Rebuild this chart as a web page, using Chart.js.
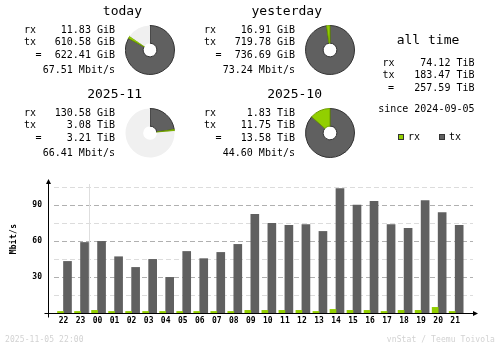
<!DOCTYPE html>
<html lang="en">
<head>
<meta charset="UTF-8" />
<title>vnStat summary</title>
<style>
  html, body { margin: 0; padding: 0; background: #fff; }
  body {
    width: 500px; height: 348px; position: relative; overflow: hidden;
    font-family: "DejaVu Sans Mono", monospace; color: #000;
  }
  .t { position: absolute; white-space: pre; font-size: 10px; line-height: 12px; }
  .h { position: absolute; white-space: pre; font-size: 13px; line-height: 14px; }
  .foot { position: absolute; white-space: pre; font-size: 8px; line-height: 10px; letter-spacing: 0.1px; color: #d2d2d2; }
  .ytitle {
    position: absolute; font-size: 8px; font-weight: bold; letter-spacing: 0.3px;
    line-height: 10px; transform: rotate(-90deg); transform-origin: center; white-space: pre;
  }
  .key { position: absolute; width: 4px; height: 4px; border: 1px solid #333; }
  canvas { position: absolute; }
</style>
</head>
<body>
<canvas id="hourly" width="500" height="348" style="left:0;top:0"></canvas>
<script src="https://cdn.jsdelivr.net/npm/chart.js@4.4.2/dist/chart.umd.min.js"></script>
<script>
  // summary blocks: today, yesterday, this month, last month
  const periods = ["today", "yesterday", "2025-11", "2025-10"];
  const rxValues = [11.83, 16.91, 130.58, 1.83];
  const rxUnits = ["GiB", "GiB", "GiB", "TiB"];
  const txValues = [610.58, 719.78, 3.08, 11.75];
  const txUnits = ["GiB", "GiB", "TiB", "TiB"];
  const totalValues = [622.41, 736.69, 3.21, 13.58];
  const totalUnits = ["GiB", "GiB", "TiB", "TiB"];
  const rates = [67.51, 73.24, 66.41, 44.60];

  const allTimeRx = 74.12;
  const allTimeTx = 183.47;
  const allTimeTotal = 257.59;
  const since = "2024-09-05";

  // hourly traffic, Mbit/s
  const hours = ["22", "23", "00", "01", "02", "03", "04", "05", "06", "07", "08", "09",
                 "10", "11", "12", "13", "14", "15", "16", "17", "18", "19", "20", "21"];
  const rxRate = [1.3, 1.3, 2.2, 1.3, 1.3, 1.3, 1.3, 1.3, 1.3, 1.3, 1.3, 2.2,
                  2.2, 2.2, 2.2, 1.3, 3.0, 2.2, 2.2, 1.3, 2.2, 2.2, 4.7, 1.3];
  const txRate = [43.0, 58.8, 59.7, 46.9, 38.0, 44.7, 29.7, 51.3, 45.3, 50.5, 57.2, 82.2,
                  74.7, 73.0, 73.8, 68.0, 103.8, 90.0, 93.0, 73.8, 70.5, 93.8, 83.8, 73.0];
  const stamp = "2025-11-05 22:00";

  const RX = "#92cf00", RX_EDGE = "#6e9c00";
  const TX = "#606060", TX_EDGE = "#333333";
  const EMPTY = "#f0f0f0";
  const GIB = { GiB: 1, TiB: 1024 };

  Chart.defaults.font.family = "'DejaVu Sans Mono', monospace";
  Chart.defaults.animation = false;

  function put(str, x, cy, align, cls) {
    const el = document.createElement("div");
    el.className = cls || "t";
    el.textContent = str;
    el.style.top = (cy - (cls === "h" ? 7 : 6)) + "px";
    if (align === "right") el.style.right = (500 - x) + "px";
    else if (align === "center") { el.style.left = (x - 100) + "px"; el.style.width = "200px"; el.style.textAlign = "center"; }
    else el.style.left = x + "px";
    document.body.appendChild(el);
    return el;
  }

  const fmt = (v, u) => v.toFixed(2) + " " + u;

  // ---- the four period blocks with their pies ----
  const blockX = [0, 180, 0, 180];
  const blockY = [0, 0, 83, 83];

  periods.forEach((name, i) => {
    const ox = blockX[i], oy = blockY[i];
    put(name, ox + 142, oy + 11, "right", "h");
    put("rx", ox + 24, oy + 29.5);
    put(fmt(rxValues[i], rxUnits[i]), ox + 115, oy + 29.5, "right");
    put("tx", ox + 24, oy + 41.7);
    put(fmt(txValues[i], txUnits[i]), ox + 115, oy + 41.7, "right");
    put("=", ox + 35.5, oy + 55);
    put(fmt(totalValues[i], totalUnits[i]), ox + 115, oy + 55, "right");
    put(rates[i].toFixed(2) + " Mbit/s", ox + 115, oy + 69.5, "right");

    // pie circle is the larger total of the pair (today/yesterday, month/previous month)
    const pair = i < 2 ? [0, 1] : [2, 3];
    const full = Math.max(...pair.map(k => totalValues[k] * GIB[totalUnits[k]]));
    const rx = rxValues[i] * GIB[rxUnits[i]];
    const tx = txValues[i] * GIB[txUnits[i]];
    const rest = Math.max(full - totalValues[i] * GIB[totalUnits[i]], 0);

    const cv = document.createElement("canvas");
    cv.width = 50; cv.height = 50;
    cv.style.left = (ox + 150 - 25) + "px";
    cv.style.top = (oy + 50 - 25) + "px";
    document.body.appendChild(cv);
    new Chart(cv, {
      type: "doughnut",
      data: {
        labels: ["tx", "rx", ""],
        datasets: [{
          data: [tx, rx, rest],
          backgroundColor: [TX, RX, EMPTY],
          borderColor: [TX_EDGE, RX_EDGE, EMPTY],
          borderWidth: [1, 1, 0],
        }],
      },
      options: {
        responsive: false,
        devicePixelRatio: 1,
        cutout: "28%",
        events: [],
        plugins: { legend: { display: false }, tooltip: { enabled: false } },
      },
    });
  });

  // ---- all time column ----
  put("all time", 428, 39.5, "center", "h");
  put("rx", 382.5, 62.5);
  put(fmt(allTimeRx, "TiB"), 474.5, 62.5, "right");
  put("tx", 382.5, 74.5);
  put(fmt(allTimeTx, "TiB"), 474.5, 74.5, "right");
  put("=", 388, 88);
  put(fmt(allTimeTotal, "TiB"), 474.5, 88, "right");
  put("since " + since, 474.5, 108.5, "right");

  function key(color, x, cy) {
    const k = document.createElement("div");
    k.className = "key";
    k.style.background = color;
    k.style.left = x + "px";
    k.style.top = (cy - 3) + "px";
    document.body.appendChild(k);
  }
  key(RX, 398, 136.5);
  put("rx", 408, 136.5);
  key(TX, 439, 136.5);
  put("tx", 449, 136.5);

  // ---- hourly bars ----
  const yTitle = document.createElement("div");
  yTitle.className = "ytitle";
  yTitle.textContent = "Mbit/s";
  yTitle.style.left = "-6px";
  yTitle.style.top = "234px";
  yTitle.style.width = "40px";
  yTitle.style.textAlign = "center";
  document.body.appendChild(yTitle);

  const foot1 = document.createElement("div");
  foot1.className = "foot";
  foot1.textContent = stamp;
  foot1.style.left = "5px";
  foot1.style.top = "335px";
  document.body.appendChild(foot1);
  const foot2 = document.createElement("div");
  foot2.className = "foot";
  foot2.textContent = "vnStat / Teemu Toivola";
  foot2.style.right = "5px";
  foot2.style.top = "335px";
  document.body.appendChild(foot2);

  // dashed guide lines, the midnight marker and the arrowed axes
  const hourlyFrame = {
    id: "hourlyFrame",
    beforeDatasetsDraw(chart) {
      const { ctx, chartArea: a, scales } = chart;
      ctx.save();
      ctx.lineWidth = 1;
      ctx.setLineDash([5, 3]);
      for (let v = 15; v < scales.y.max; v += 15) {
        const y = Math.round(scales.y.getPixelForValue(v)) + 0.5;
        ctx.strokeStyle = v % 30 === 0 ? "#b0b0b0" : "#dcdcdc";
        ctx.beginPath();
        ctx.moveTo(a.left + 6, y);
        ctx.lineTo(a.right - 5, y);
        ctx.stroke();
      }
      ctx.setLineDash([]);
      const midnight = hours.indexOf("00");
      if (midnight > 0) {
        const x = Math.round(scales.x.getPixelForValue(midnight - 0.5)) + 0.5;
        ctx.strokeStyle = "#dedede";
        ctx.beginPath();
        ctx.moveTo(x, a.top + 5);
        ctx.lineTo(x, a.bottom);
        ctx.stroke();
      }
      ctx.restore();
    },
    afterDatasetsDraw(chart) {
      const { ctx, chartArea: a } = chart;
      const x0 = Math.round(a.left) + 0.5;
      const y0 = Math.round(a.bottom) + 0.5;
      ctx.save();
      ctx.strokeStyle = "#000";
      ctx.fillStyle = "#000";
      ctx.lineWidth = 1;
      ctx.beginPath();
      ctx.moveTo(x0, a.top + 2);
      ctx.lineTo(x0, y0 + 4);
      ctx.moveTo(x0 - 4, y0);
      ctx.lineTo(a.right - 2, y0);
      ctx.stroke();
      ctx.beginPath();
      ctx.moveTo(x0, a.top);
      ctx.lineTo(x0 - 2.5, a.top + 5);
      ctx.lineTo(x0 + 2.5, a.top + 5);
      ctx.closePath();
      ctx.fill();
      ctx.beginPath();
      ctx.moveTo(a.right, y0);
      ctx.lineTo(a.right - 5, y0 - 2.5);
      ctx.lineTo(a.right - 5, y0 + 2.5);
      ctx.closePath();
      ctx.fill();
      ctx.restore();
    },
  };

  new Chart(document.getElementById("hourly"), {
    type: "bar",
    data: {
      datasets: [
        {
          label: "rx",
          data: rxRate.map((v, i) => ({ x: i, y: v })),
          backgroundColor: RX,
          barThickness: 6,
        },
        {
          label: "tx",
          data: txRate.map((v, i) => ({ x: i, y: v })),
          backgroundColor: TX,
          barThickness: 8,
        },
      ],
    },
    options: {
      responsive: false,
      devicePixelRatio: 1,
      events: [],
      layout: { padding: { left: 0, right: 22, top: 179, bottom: 0 } },
      plugins: { legend: { display: false }, tooltip: { enabled: false } },
      scales: {
        x: {
          type: "linear",
          bounds: "data",
          offset: false,
          min: -0.91,
          max: 24.34,
          grid: { display: false, drawTicks: false },
          border: { display: false },
          afterFit(scale) { scale.height = 35; },
          // one tick per hour slot
          afterBuildTicks(scale) { scale.ticks = hours.map((_, i) => ({ value: i })); },
          ticks: {
            autoSkip: false,
            maxRotation: 0,
            padding: 3,
            color: "#000",
            font: { size: 8, weight: "bold" },
            callback: (v) => hours[v] ?? "",
          },
        },
        y: {
          bounds: "data",
          min: 0,
          max: 111.7,
          grid: { display: false, drawTicks: false },
          border: { display: false },
          afterFit(scale) { scale.width = 48; },
          ticks: {
            stepSize: 15,
            includeBounds: false,
            padding: 6,
            color: "#000",
            font: { size: 8, weight: "bold" },
            callback: (v) => (v > 0 && v % 30 === 0 ? String(v) : ""),
          },
        },
      },
    },
    plugins: [hourlyFrame],
  });
</script>
</body>
</html>
